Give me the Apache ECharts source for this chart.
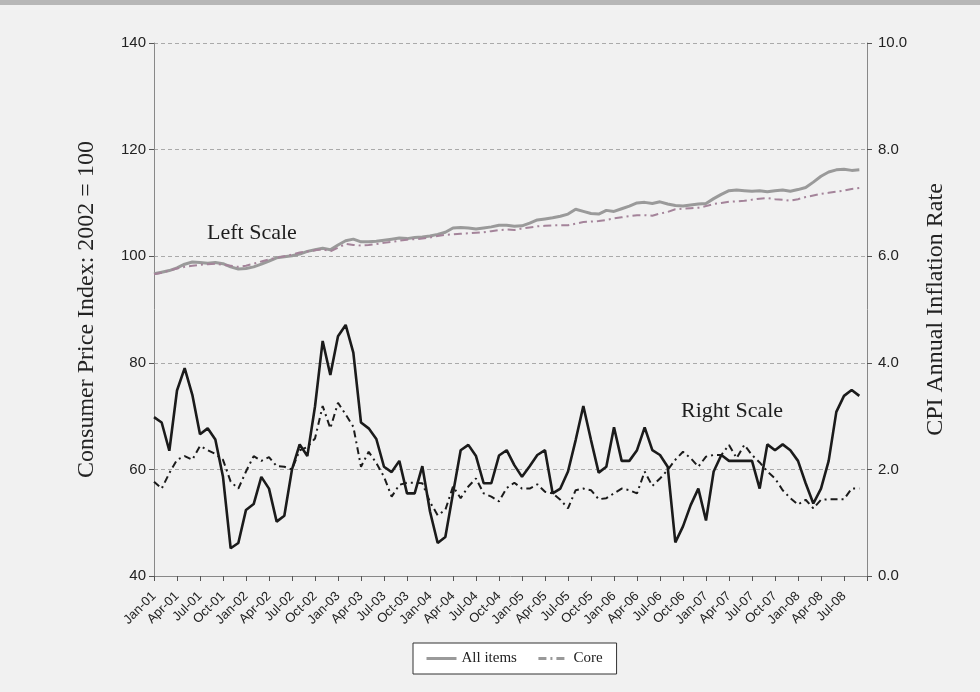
<!DOCTYPE html>
<html>
<head>
<meta charset="utf-8">
<script src="https://cdn.jsdelivr.net/npm/echarts@6/dist/echarts.min.js"></script>
<style>
  html, body { margin: 0; padding: 0; background: #f1f1f1; }
  #main { width: 980px; height: 692px; }
</style>
</head>
<body>
<div id="main"></div>
<script>
const months = ['Jan', 'Feb', 'Mar', 'Apr', 'May', 'Jun', 'Jul', 'Aug', 'Sep', 'Oct', 'Nov', 'Dec']
const years = ['01', '02', '03', '04', '05', '06', '07', '08']
// Jan-01 .. Oct-08, the axis runs one month past the last point
const categories = []
years.forEach(y => months.forEach(m => categories.push(m + '-' + y)))
categories.length = 94

// left scale: price index, 2002 = 100
const allItemsIndex = [
  96.7, 97.0, 97.3, 97.8, 98.5, 98.9, 98.8, 98.7, 98.8, 98.6, 98.0, 97.6,
  97.7, 98.0, 98.5, 99.1, 99.7, 99.9, 100.1, 100.4, 100.9, 101.2, 101.5, 101.2,
  102.1, 102.9, 103.2, 102.7, 102.7, 102.8, 103.0, 103.2, 103.4, 103.3, 103.5, 103.6,
  103.8, 104.1, 104.5, 105.3, 105.4, 105.3, 105.1, 105.3, 105.5, 105.8, 105.8, 105.6,
  105.7, 106.2, 106.8, 107.0, 107.2, 107.5, 107.9, 108.8, 108.4, 108.0, 107.9, 108.6,
  108.4, 108.9, 109.4, 110.0, 110.1, 109.9, 110.2, 109.8, 109.5, 109.4, 109.6, 109.8,
  109.9, 110.8, 111.6, 112.3, 112.4, 112.3, 112.2, 112.3, 112.1, 112.3, 112.4, 112.2,
  112.5, 112.9, 113.9, 115.0, 115.8, 116.2, 116.3, 116.1, 116.2
]
const coreIndex = [
  96.6, 96.9, 97.3, 97.7, 98.0, 98.2, 98.4, 98.5, 98.6, 98.4, 98.2, 98.0,
  98.2, 98.6, 99.0, 99.4, 99.7, 100.0, 100.3, 100.7, 100.9, 101.1, 101.3, 100.9,
  101.6, 102.3, 102.1, 102.0, 102.1, 102.3, 102.5, 102.7, 102.9, 103.1, 103.2, 103.3,
  103.5, 103.8, 104.0, 104.1, 104.2, 104.3, 104.4, 104.5, 104.7, 104.9, 105.0, 104.9,
  105.2, 105.4, 105.6, 105.7, 105.8, 105.8, 105.8, 106.1, 106.4, 106.5, 106.6, 106.8,
  107.1, 107.3, 107.5, 107.7, 107.7, 107.6, 108.0, 108.3, 108.8, 108.9, 109.0, 109.1,
  109.4, 109.8, 110.0, 110.2, 110.3, 110.4, 110.6, 110.8, 110.9, 110.7, 110.6, 110.4,
  110.7, 111.1, 111.4, 111.7, 111.9, 112.1, 112.3, 112.6, 112.8
]
// right scale: annual inflation rate, %
const allItemsRate = [
  2.98, 2.88, 2.35, 3.48, 3.90, 3.40, 2.66, 2.77, 2.56, 1.86, 0.52, 0.62,
  1.24, 1.35, 1.86, 1.64, 1.02, 1.13, 2.00, 2.47, 2.25, 3.18, 4.41, 3.77,
  4.50, 4.71, 4.19, 2.88, 2.77, 2.57, 2.05, 1.95, 2.16, 1.55, 1.55, 2.06,
  1.21, 0.62, 0.73, 1.55, 2.36, 2.46, 2.25, 1.74, 1.74, 2.26, 2.36, 2.08,
  1.86, 2.06, 2.27, 2.36, 1.55, 1.64, 1.96, 2.55, 3.19, 2.55, 1.94, 2.05,
  2.79, 2.16, 2.16, 2.36, 2.79, 2.36, 2.27, 2.05, 0.63, 0.93, 1.33, 1.64,
  1.04, 1.96, 2.27, 2.16, 2.16, 2.16, 2.16, 1.64, 2.47, 2.36, 2.47, 2.36,
  2.16, 1.74, 1.36, 1.64, 2.16, 3.08, 3.38, 3.49, 3.38
]
const coreRate = [
  1.77, 1.64, 1.93, 2.18, 2.25, 2.18, 2.44, 2.36, 2.29, 2.18, 1.77, 1.64,
  1.96, 2.25, 2.16, 2.23, 2.06, 2.05, 2.00, 2.36, 2.42, 2.58, 3.19, 2.77,
  3.25, 3.03, 2.80, 2.05, 2.33, 2.12, 1.86, 1.49, 1.71, 1.75, 1.75, 1.74,
  1.39, 1.14, 1.24, 1.68, 1.46, 1.68, 1.83, 1.55, 1.49, 1.40, 1.65, 1.75,
  1.64, 1.64, 1.72, 1.58, 1.55, 1.43, 1.27, 1.61, 1.64, 1.61, 1.44, 1.46,
  1.55, 1.64, 1.61, 1.55, 1.96, 1.69, 1.83, 1.99, 2.18, 2.33, 2.21, 2.05,
  2.24, 2.27, 2.27, 2.46, 2.21, 2.46, 2.27, 2.13, 1.96, 1.83, 1.61, 1.46,
  1.34, 1.43, 1.27, 1.43, 1.44, 1.44, 1.44, 1.64, 1.64
]
const leftTicks = { min: 40, max: 140, interval: 20 }
const rightTicks = { min: 0, max: 10, interval: 2 }

const serif = '"Liberation Serif", "DejaVu Serif", serif'
const sans = '"Liberation Sans", Arial, sans-serif'

const chart = echarts.init(document.getElementById('main'))
chart.setOption({
  backgroundColor: '#f1f1f1',
  animation: false,
  grid: { left: 154, right: 113, top: 43, bottom: 116 },
  graphic: [
    { type: 'rect', shape: { x: 0, y: 0, width: 980, height: 5 }, style: { fill: '#b7b7b7' } },
    { type: 'text', left: 207, top: 222, style: { text: 'Left Scale', font: '22px ' + serif, fill: '#1e1e1e' } },
    { type: 'text', left: 681, top: 400, style: { text: 'Right Scale', font: '22px ' + serif, fill: '#1e1e1e' } }
  ],
  legend: {
    data: [
      { name: 'All items' },
      { name: 'Core', lineStyle: { color: '#999' } }
    ],
    left: 413,
    top: 643,
    backgroundColor: '#ffffff',
    borderColor: '#333',
    borderWidth: 1,
    borderRadius: 0,
    padding: [8, 14, 8, 12],
    itemGap: 20,
    itemWidth: 30,
    itemHeight: 10,
    itemStyle: { opacity: 0 },
    lineStyle: { width: 3 },
    textStyle: { fontFamily: serif, fontSize: 15, color: '#222' }
  },
  xAxis: {
    type: 'category',
    data: categories,
    boundaryGap: false,
    axisLine: { lineStyle: { color: '#888', width: 1 } },
    axisTick: {
      length: 5,
      interval: i => i % 3 === 0,
      lineStyle: { color: '#555' }
    },
    axisLabel: {
      rotate: 45,
      interval: i => i % 3 === 0 && i < 93,
      fontFamily: sans,
      fontSize: 13,
      color: '#222',
      margin: 18
    },
    splitLine: { show: false }
  },
  yAxis: [
    {
      type: 'value',
      min: leftTicks.min,
      max: leftTicks.max,
      interval: leftTicks.interval,
      name: 'Consumer Price Index: 2002 = 100',
      nameLocation: 'middle',
      nameGap: 55,
      nameTextStyle: { fontFamily: serif, fontSize: 24, color: '#222' },
      axisLine: { show: true, lineStyle: { color: '#888' } },
      axisTick: { show: true, length: 5, lineStyle: { color: '#555' } },
      axisLabel: { fontFamily: sans, fontSize: 15, color: '#222', margin: 8 },
      splitLine: { show: true, lineStyle: { color: '#aaa', type: [4, 3], width: 1 } }
    },
    {
      type: 'value',
      min: rightTicks.min,
      max: rightTicks.max,
      interval: rightTicks.interval,
      name: 'CPI Annual Inflation Rate',
      nameLocation: 'middle',
      nameGap: 57,
      nameTextStyle: { fontFamily: serif, fontSize: 24, color: '#222' },
      axisLine: { show: true, lineStyle: { color: '#888' } },
      axisTick: { show: true, length: 5, lineStyle: { color: '#555' } },
      axisLabel: { fontFamily: sans, fontSize: 15, color: '#222', margin: 11, formatter: v => v.toFixed(1) },
      splitLine: { show: false }
    }
  ],
  series: [
    {
      name: 'All items',
      type: 'line',
      yAxisIndex: 0,
      data: allItemsIndex,
      symbol: 'none',
      itemStyle: { color: '#9a9a9a' },
      lineStyle: { color: '#9a9a9a', width: 3 }
    },
    {
      name: 'Core',
      type: 'line',
      yAxisIndex: 0,
      data: coreIndex,
      symbol: 'none',
      itemStyle: { color: '#9c8a96' },
      lineStyle: { color: '#a4849a', width: 2, type: [8, 4, 2, 4] }
    },
    {
      name: 'All items rate',
      type: 'line',
      yAxisIndex: 1,
      data: allItemsRate,
      symbol: 'none',
      lineStyle: { color: '#1b1b1b', width: 2.6 }
    },
    {
      name: 'Core rate',
      type: 'line',
      yAxisIndex: 1,
      data: coreRate,
      symbol: 'none',
      lineStyle: { color: '#1b1b1b', width: 2, type: [7, 4, 2, 4] }
    }
  ]
})
</script>
</body>
</html>
